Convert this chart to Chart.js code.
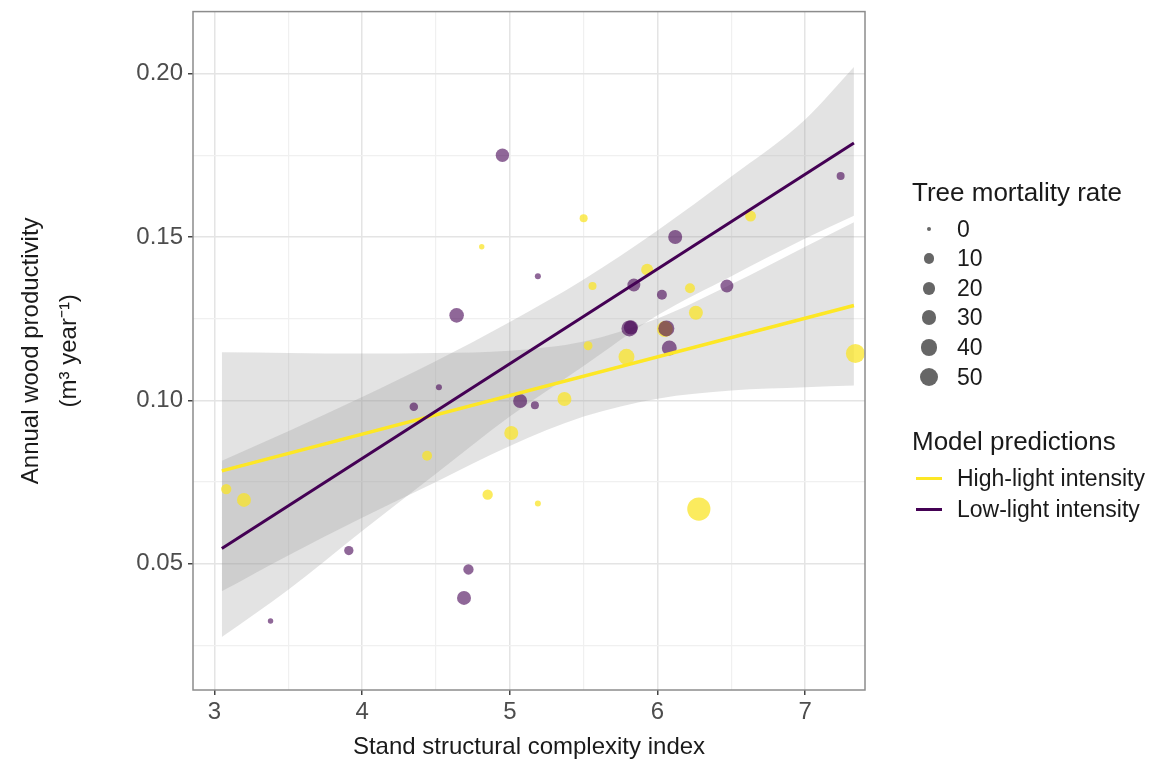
<!DOCTYPE html>
<html>
<head>
<meta charset="utf-8">
<script src="https://cdn.jsdelivr.net/npm/chart.js@4.4.0/dist/chart.umd.min.js"></script>
<style>
  html, body { margin: 0; padding: 0; background: #fff; }
  #wrap { position: relative; width: 1154px; height: 771px; font-family: "Liberation Sans", Arial, sans-serif; }
  #legend { position: absolute; left: 0; top: 0; width: 1154px; height: 771px; pointer-events: none; color: #1a1a1a; }
  .lg { position: absolute; white-space: nowrap; line-height: 1; }
  .lg-title { font-size: 26px; }
  .lg-label { font-size: 23px; }
  .dot { position: absolute; border-radius: 50%; background: rgba(0,0,0,0.6); }
  .seg { position: absolute; height: 3px; }
</style>
</head>
<body>
<div id="wrap">
  <canvas id="c" width="1154" height="771"></canvas>
  <div id="legend"></div>
</div>
<script>
// points, low-light plots (purple)
var lowX    = [4.95, 4.64, 4.52, 4.35, 5.07, 5.17, 5.19, 5.84, 6.03, 6.12, 6.47, 7.24, 5.81, 5.82, 6.06, 6.08, 3.91, 4.72, 4.69, 3.38];
var lowY    = [0.175, 0.126, 0.104, 0.098, 0.0998, 0.0985, 0.138, 0.1353, 0.1323, 0.150, 0.135, 0.1687, 0.122, 0.1223, 0.122, 0.116, 0.054, 0.0482, 0.0395, 0.0324];
var lowMort = [22, 28, 1, 5, 25, 4, 1, 20, 9, 25, 20, 4, 36, 26, 36, 30, 7, 10, 25, 0.5];

// points, high-light plots (yellow)
var highX    = [4.81, 5.50, 6.63, 5.93, 5.56, 6.22, 6.26, 6.05, 5.53, 5.79, 7.34, 5.37, 5.01, 4.44, 4.85, 5.19, 6.28, 3.08, 3.20];
var highY    = [0.147, 0.1557, 0.1564, 0.140, 0.135, 0.1343, 0.1268, 0.1218, 0.1167, 0.1133, 0.1143, 0.1004, 0.090, 0.083, 0.0711, 0.0684, 0.0667, 0.0728, 0.0695];
var highMort = [0.5, 4, 12, 16, 4, 9, 25, 36, 6, 36, 56, 25, 25, 9, 10, 1, 92, 10, 25];

// model predictions
var fitX    = [3.05, 7.33];
var lowFit  = [0.0546, 0.1788];
var highFit = [0.0784, 0.1290];

// confidence ribbons
var bandX     = [3.05, 3.5, 4.0, 4.5, 5.0, 5.5, 6.0, 6.5, 7.0, 7.33];
var lowLower  = [0.0275, 0.0420, 0.0600, 0.0775, 0.0950, 0.1105, 0.1260, 0.1380, 0.1495, 0.1565];
var lowUpper  = [0.0815, 0.0905, 0.1010, 0.1120, 0.1240, 0.1370, 0.1520, 0.1685, 0.1860, 0.2020];
var highLower = [0.0415, 0.0525, 0.0640, 0.0750, 0.0860, 0.0950, 0.1005, 0.1030, 0.1040, 0.1045];
var highUpper = [0.1147, 0.1145, 0.1143, 0.1145, 0.1152, 0.1180, 0.1250, 0.1355, 0.1470, 0.1545];

// axes
var xMajor = [3, 4, 5, 6, 7];
var xMinor = [3.5, 4.5, 5.5, 6.5];
var yMajor = [0.05, 0.10, 0.15, 0.20];
var yMinor = [0.025, 0.075, 0.125, 0.175];
var sizeBreaks = [0, 10, 20, 30, 40, 50];

var PURPLE = '#440154';
var YELLOW = '#FDE725';
var BAND = 'rgba(153,153,153,0.27)';

function mortRadius(m) {
  return 2 + Math.sqrt(m);
}

function pts(xs, ys) {
  return xs.map(function(x, i) { return {x: x, y: ys[i]}; });
}

function isMajor(list, v) {
  return list.some(function(m) { return Math.abs(m - v) < 1e-6; });
}

function band(xs, ys, fillTarget) {
  return {
    type: 'line',
    data: pts(xs, ys),
    borderWidth: 0,
    borderColor: 'rgba(0,0,0,0)',
    pointRadius: 0,
    backgroundColor: BAND,
    fill: fillTarget,
    cubicInterpolationMode: 'monotone',
    order: 6
  };
}

var panelBorder = {
  id: 'panelBorder',
  afterDraw: function(chart) {
    var a = chart.chartArea, ctx = chart.ctx;
    ctx.save();
    ctx.strokeStyle = '#8c8c8c';
    ctx.lineWidth = 1.5;
    ctx.strokeRect(a.left, a.top, a.right - a.left, a.bottom - a.top);
    ctx.restore();
  }
};

new Chart(document.getElementById('c'), {
  type: 'scatter',
  data: {
    datasets: [
      { // 0
        data: pts(highX, highY),
        backgroundColor: 'rgba(250,228,40,0.75)',
        borderWidth: 0,
        pointRadius: function(c) { return mortRadius(highMort[c.dataIndex]); },
        order: 3
      },
      { // 1
        data: pts(lowX, lowY),
        backgroundColor: 'rgba(68,1,84,0.6)',
        borderWidth: 0,
        pointRadius: function(c) { return mortRadius(lowMort[c.dataIndex]); },
        order: 2
      },
      band(bandX, highLower, false),   // 2
      band(bandX, highUpper, 2),       // 3
      band(bandX, lowLower, false),    // 4
      band(bandX, lowUpper, 4),        // 5
      {
        type: 'line', data: pts(fitX, highFit), borderColor: YELLOW, borderWidth: 3.5,
        pointRadius: 0, fill: false, order: 1
      },
      {
        type: 'line', data: pts(fitX, lowFit), borderColor: PURPLE, borderWidth: 3,
        pointRadius: 0, fill: false, order: 0
      }
    ]
  },
  options: {
    responsive: false,
    animation: false,
    events: [],
    layout: { padding: { top: 9, right: 289, left: 0, bottom: 0 } },
    plugins: { legend: { display: false }, tooltip: { enabled: false } },
    scales: {
      x: {
        type: 'linear',
        min: 2.855,
        max: 7.405,
        afterBuildTicks: function(s) {
          s.ticks = xMajor.concat(xMinor).sort().map(function(v) { return {value: v}; });
        },
        afterFit: function(s) { s.height = 81; s.paddingLeft = 0; s.paddingRight = 0; },
        border: { display: false },
        grid: {
          color: function(c) { return isMajor(xMajor, c.tick.value) ? '#e4e4e4' : '#f0f0f0'; },
          lineWidth: function(c) { return isMajor(xMajor, c.tick.value) ? 1.5 : 1.2; },
          tickColor: function(c) { return isMajor(xMajor, c.tick.value) ? '#444' : 'rgba(0,0,0,0)'; },
          tickLength: 5,
          tickWidth: 1.5
        },
        ticks: {
          autoSkip: false,
          maxRotation: 0,
          padding: 3,
          color: '#4d4d4d',
          font: { family: 'Liberation Sans', size: 24 },
          callback: function(v) { return isMajor(xMajor, v) ? String(Math.round(v)) : ''; }
        },
        title: {
          display: true,
          text: 'Stand structural complexity index',
          color: '#1a1a1a',
          font: { family: 'Liberation Sans', size: 24, lineHeight: 1.2 },
          padding: { top: 0, bottom: 9 }
        }
      },
      y: {
        type: 'linear',
        min: 0.0113,
        max: 0.219,
        afterBuildTicks: function(s) {
          s.ticks = yMinor.concat(yMajor).sort().map(function(v) { return {value: v}; });
        },
        afterFit: function(s) { s.width = 193; s.paddingTop = 0; s.paddingBottom = 0; },
        border: { display: false },
        grid: {
          color: function(c) { return isMajor(yMajor, c.tick.value) ? '#e4e4e4' : '#f0f0f0'; },
          lineWidth: function(c) { return isMajor(yMajor, c.tick.value) ? 1.5 : 1.2; },
          tickColor: function(c) { return isMajor(yMajor, c.tick.value) ? '#444' : 'rgba(0,0,0,0)'; },
          tickLength: 5,
          tickWidth: 1.5
        },
        ticks: {
          autoSkip: false,
          padding: 5,
          color: '#4d4d4d',
          font: { family: 'Liberation Sans', size: 24 },
          callback: function(v) { return isMajor(yMajor, v) ? v.toFixed(2) : ''; }
        },
        title: {
          display: true,
          text: ['Annual wood productivity', '(m\u00b3 year\u207b\u00b9)'],
          color: '#1a1a1a',
          font: { family: 'Liberation Sans', size: 24, lineHeight: 1.6 },
          padding: { top: 12, bottom: 0 }
        }
      }
    }
  },
  plugins: [panelBorder]
});

// legend (HTML, built from the same breaks and radius mapping)
var lg = document.getElementById('legend');
function addText(txt, cls, left, cy) {
  var d = document.createElement('div');
  d.className = 'lg ' + cls;
  d.textContent = txt;
  d.style.left = left + 'px';
  lg.appendChild(d);
  d.style.top = (cy - d.offsetHeight / 2) + 'px';
  return d;
}
addText('Tree mortality rate', 'lg-title', 912, 192);
sizeBreaks.forEach(function(b, i) {
  var cy = 229 + i * 29.6;
  var r = mortRadius(b);
  var dot = document.createElement('div');
  dot.className = 'dot';
  dot.style.width = dot.style.height = (2 * r) + 'px';
  dot.style.left = (929 - r) + 'px';
  dot.style.top = (cy - r) + 'px';
  lg.appendChild(dot);
  addText(String(b), 'lg-label', 957, cy);
});
addText('Model predictions', 'lg-title', 912, 441);
[['High-light intensity', YELLOW, 478], ['Low-light intensity', PURPLE, 509]].forEach(function(e) {
  var s = document.createElement('div');
  s.className = 'seg';
  s.style.left = '916px';
  s.style.width = '26px';
  s.style.top = (e[2] - 1.5) + 'px';
  s.style.background = e[1];
  lg.appendChild(s);
  addText(e[0], 'lg-label', 957, e[2]);
});
</script>
</body>
</html>
